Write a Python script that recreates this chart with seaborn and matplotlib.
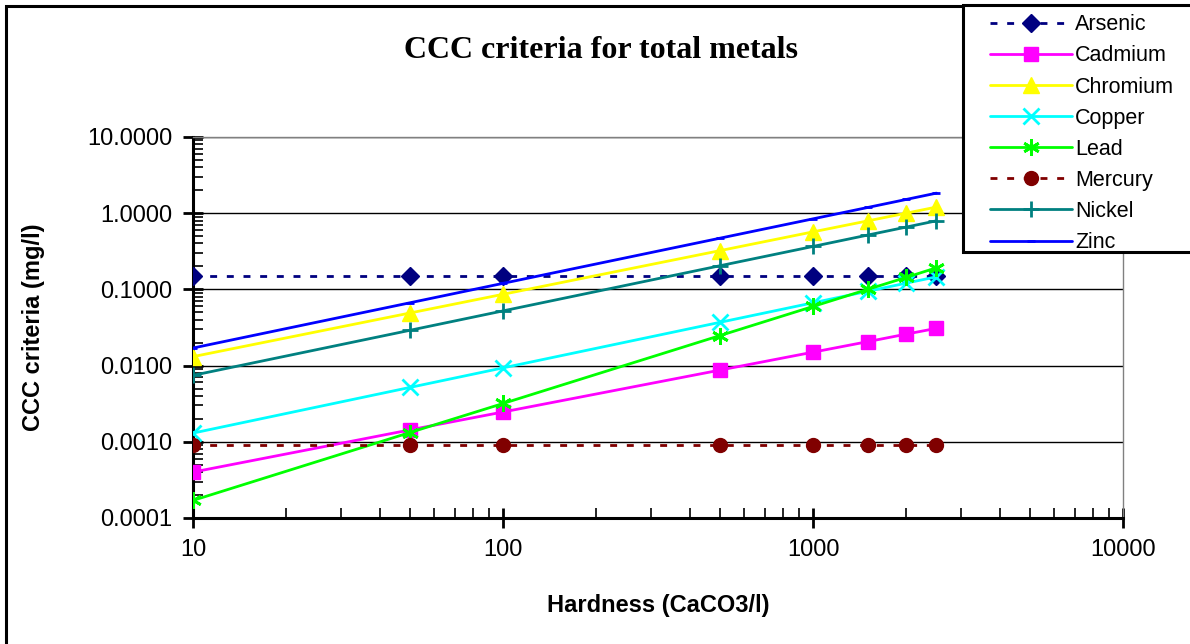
import matplotlib
matplotlib.use("Agg")
import matplotlib.pyplot as plt
from matplotlib.patches import Rectangle
from matplotlib.ticker import LogLocator, FixedLocator, NullFormatter
import pandas as pd
import seaborn as sns

# hardness values (CaCO3/l) where criteria were computed
hardness = [10, 50, 100, 500, 1000, 1500, 2000, 2500]

# CCC criteria in mg/l
arsenic = [0.15, 0.15, 0.15, 0.15, 0.15, 0.15, 0.15, 0.15]
cadmium = [0.00040, 0.00143, 0.00246, 0.00871, 0.0150, 0.0206, 0.0259, 0.0308]
chromium = [0.0131, 0.0489, 0.0862, 0.322, 0.569, 0.792, 1.002, 1.203]
copper = [0.00130, 0.00516, 0.00933, 0.0369, 0.0667, 0.0944, 0.121, 0.146]
lead = [0.00017, 0.00132, 0.00318, 0.0247, 0.0597, 0.100, 0.144, 0.192]
mercury = [0.00091, 0.00091, 0.00091, 0.00091, 0.00091, 0.00091, 0.00091, 0.00091]
nickel = [0.00744, 0.0290, 0.0522, 0.204, 0.366, 0.516, 0.658, 0.794]
zinc = [0.0170, 0.0666, 0.120, 0.469, 0.843, 1.188, 1.516, 1.833]

metals = ["Arsenic", "Cadmium", "Chromium", "Copper", "Lead", "Mercury", "Nickel", "Zinc"]
series = [arsenic, cadmium, chromium, copper, lead, mercury, nickel, zinc]

y_ticks = [0.0001, 0.001, 0.01, 0.1, 1, 10]
x_ticks = [10, 100, 1000, 10000]

styles = {
    "Arsenic": dict(color="#000080", marker="D", ms=9, ls=(0, (2.5, 3.5))),
    "Cadmium": dict(color="#FF00FF", marker="s", ms=10, ls="-"),
    "Chromium": dict(color="#FFFF00", marker="^", ms=12, ls="-"),
    "Copper": dict(color="#00FFFF", marker="x", ms=11, ls="-"),
    "Lead": dict(color="#00FF00", marker=(6, 2, 0), ms=12, ls="-"),
    "Mercury": dict(color="#800000", marker="o", ms=10, ls=(0, (2.5, 3.5))),
    "Nickel": dict(color="#008080", marker="+", ms=12, ls="-"),
    "Zinc": dict(color="#0000FF", marker="_", ms=6, ls="-"),
}

sns.set_theme(style="white")
plt.rcParams["font.family"] = ["Liberation Sans", "DejaVu Sans"]
plt.rcParams.update({
    "text.color": "black",
    "axes.labelcolor": "black",
    "xtick.color": "black",
    "ytick.color": "black",
})

df = pd.DataFrame({"hardness": hardness})
for name, vals in zip(metals, series):
    df[name] = vals
long_df = df.melt(id_vars="hardness", var_name="metal", value_name="ccc")

fig = plt.figure(figsize=(11.9, 6.44), dpi=100)
ax = fig.add_axes([0.1622, 0.1957, 0.7816, 0.5916])

for name in metals:
    st = styles[name]
    sub = long_df[long_df["metal"] == name]
    line_marker = st["marker"] in ("x", "+", "_", (6, 2, 0))
    sns.lineplot(
        data=sub,
        x="hardness",
        y="ccc",
        ax=ax,
        color=st["color"],
        linestyle=st["ls"],
        linewidth=2,
        marker=st["marker"],
        markersize=st["ms"],
        markerfacecolor=st["color"],
        markeredgecolor=st["color"],
        markeredgewidth=2 if line_marker else 1,
        label=name,
        zorder=3,
    )

ax.set_xscale("log")
ax.set_yscale("log")
ax.set_xlim(10, 10000)
ax.set_ylim(0.0001, 10)

ax.xaxis.set_major_locator(FixedLocator(x_ticks))
ax.set_xticklabels([str(v) for v in x_ticks])
ax.xaxis.set_minor_locator(LogLocator(base=10, subs=range(2, 10)))
ax.xaxis.set_minor_formatter(NullFormatter())
ax.yaxis.set_major_locator(FixedLocator(y_ticks))
ax.set_yticklabels([f"{v:.4f}" for v in y_ticks])
ax.yaxis.set_minor_locator(LogLocator(base=10, subs=range(2, 10)))
ax.yaxis.set_minor_formatter(NullFormatter())

ax.tick_params(which="major", direction="inout", length=14, width=2, color="black",
               labelsize=17, pad=8)
ax.tick_params(which="minor", direction="in", length=7, width=1.2, color="black")
ax.tick_params(axis="x", which="both", bottom=True)
ax.tick_params(axis="y", which="both", left=True)

ax.yaxis.grid(True, which="major", color="black", linewidth=1)
ax.xaxis.grid(False)
for side in ("left", "bottom"):
    ax.spines[side].set_color("black")
    ax.spines[side].set_linewidth(2.2)
for side in ("top", "right"):
    ax.spines[side].set_color("#808080")
    ax.spines[side].set_linewidth(1)

ax.set_xlabel("Hardness (CaCO3/l)", fontsize=17, fontweight="bold", labelpad=24)
ax.set_ylabel("CCC criteria (mg/l)", fontsize=17, fontweight="bold", labelpad=30)

fig.text(0.505, 0.922, "CCC criteria for total metals", ha="center", va="center",
         fontsize=23, fontweight="bold", family=["Liberation Serif", "DejaVu Serif"])

# legend: white box drawn on the figure, entries on top of it
handles, labels = ax.get_legend_handles_labels()
if ax.get_legend() is not None:
    ax.get_legend().remove()
fig.patches.append(Rectangle((963 / 1190, 1 - 252 / 644), 240 / 1190, 247 / 644,
                             transform=fig.transFigure, facecolor="white",
                             edgecolor="black", linewidth=2.2, zorder=4))
leg = fig.legend(
    handles, labels,
    loc="upper left",
    bbox_to_anchor=(986 / 1190, 1 - 10 / 644),
    frameon=False,
    fontsize=15.5,
    handlelength=3.8,
    handletextpad=0.15,
    labelspacing=0.47,
    borderaxespad=0,
    borderpad=0.2,
)
leg.set_zorder(5)

# outer chart border (left and top edges visible)
fig.patches.append(Rectangle((6 / 1190, -0.05), 1.2, 1 - 6 / 644 + 0.05,
                             transform=fig.transFigure, fill=False,
                             edgecolor="black", linewidth=2.2, zorder=0))

fig.savefig("out.png", dpi=100)
